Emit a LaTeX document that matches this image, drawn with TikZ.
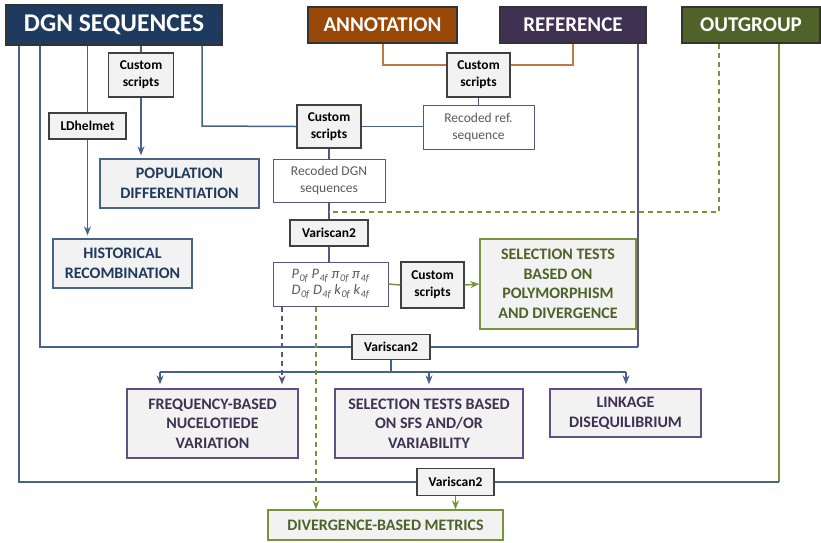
\documentclass[tikz,border=0pt]{standalone}
\usepackage{fontspec}
\setmainfont{Carlito}
\usetikzlibrary{arrows.meta}

\definecolor{navy}{HTML}{1F3A5F}
\definecolor{blueline}{HTML}{47638A}
\definecolor{annfill}{HTML}{984807}
\definecolor{annline}{HTML}{C27A45}
\definecolor{reffill}{HTML}{3F3151}
\definecolor{purpline}{HTML}{5F5182}
\definecolor{outfill}{HTML}{4F6228}
\definecolor{greenline}{HTML}{77933C}
\definecolor{boxfill}{HTML}{F2F2F2}
\definecolor{toolborder}{HTML}{404040}
\definecolor{greytext}{HTML}{5A5A5A}

\newcommand{\sub}[1]{\textsubscript{\kern0.5pt#1}}

\tikzset{
  header/.style={draw=black!80, line width=1.3pt, text=white, font=\bfseries\fontsize{21}{24}\selectfont, inner sep=0pt},
  tool/.style={draw=toolborder, fill=boxfill, line width=1.2pt, align=center, inner sep=0pt,
    font=\bfseries\fontsize{13.5}{17}\selectfont},
  result/.style={fill=boxfill, line width=1.3pt, align=center, inner sep=0pt,
    font=\bfseries\fontsize{16}{19.5}\selectfont},
  interm/.style={draw=purpline, fill=white, line width=1pt, align=center, inner sep=0pt,
    text=greytext, font=\fontsize{13.5}{17}\selectfont},
  bl/.style={draw=blueline, line width=1.5pt},
  pl/.style={draw=purpline, line width=1.5pt},
  ol/.style={draw=annline, line width=1.5pt},
  gl/.style={draw=greenline, line width=1.5pt},
  gdash/.style={draw=greenline, line width=1.5pt, dash pattern=on 5pt off 4pt},
  pdash/.style={draw=purpline, line width=1.5pt, dash pattern=on 5pt off 4pt},
  tip/.style={-{Stealth[length=9pt,width=7pt]}},
}

\begin{document}
\begin{tikzpicture}[x=1pt,y=-1pt]
\useasboundingbox (0,0) rectangle (821,542);

% data sources
\node[header, fill=navy, minimum width=216pt, minimum height=40pt,
      font=\bfseries\fontsize{25.5}{28}\selectfont] (dgn) at (114,25) {DGN SEQUENCES};
\node[header, fill=annfill, minimum width=149pt, minimum height=36pt] (ann) at (382.5,25) {ANNOTATION};
\node[header, fill=reffill, minimum width=146pt, minimum height=36pt] (ref) at (573,25) {REFERENCE};
\node[header, fill=outfill, minimum width=138pt, minimum height=36pt] (out) at (751,25) {OUTGROUP};

% tools
\node[tool, minimum width=65pt, minimum height=44pt] (cs1) at (141,75) {Custom\\scripts};
\node[tool, minimum width=77pt, minimum height=26pt] (ldh) at (87.5,126) {LDhelmet};
\node[tool, minimum width=64pt, minimum height=43pt] (cs2) at (329,126.5) {Custom\\scripts};
\node[tool, minimum width=63pt, minimum height=44pt] (cs3) at (478.5,75) {Custom\\scripts};
\node[tool, minimum width=78pt, minimum height=26pt] (vs1) at (329,233) {Variscan2};
\node[tool, minimum width=63pt, minimum height=46pt] (cs4) at (432.5,285) {Custom\\scripts};
\node[tool, minimum width=78pt, minimum height=25pt] (vs2) at (391,347) {Variscan2};
\node[tool, minimum width=77pt, minimum height=27pt] (vs3) at (455.5,482) {Variscan2};

% intermediate files
\node[interm, minimum width=111pt, minimum height=44pt] (recref) at (478.5,127) {Recoded ref.\\sequence};
\node[interm, minimum width=112pt, minimum height=43pt] (recdgn) at (329,180.5) {Recoded DGN\\sequences};
\node[interm, minimum width=115pt, minimum height=44pt, font=\itshape\fontsize{14.5}{16}\selectfont] (par) at (330.5,284)
  {P\sub{0f} P\sub{4f} π\sub{0f} π\sub{4f}\\
   D\sub{0f} D\sub{4f} k\sub{0f} k\sub{4f}};

% analyses
\node[result, draw=blueline, text=navy, minimum width=159pt, minimum height=49pt] (pop) at (179.5,183.5) {POPULATION\\DIFFERENTIATION};
\node[result, draw=blueline, text=navy, minimum width=139pt, minimum height=49pt] (hist) at (122.5,263.5) {HISTORICAL\\RECOMBINATION};
\node[result, draw=greenline, text=outfill, minimum width=156pt, minimum height=90pt] (poly) at (558,284) {SELECTION TESTS\\BASED ON\\POLYMORPHISM\\AND DIVERGENCE};
\node[result, draw=purpline, text=reffill, minimum width=171pt, minimum height=69pt] (freq) at (212.5,423.5) {FREQUENCY-BASED\\NUCELOTIEDE\\VARIATION};
\node[result, draw=purpline, text=reffill, minimum width=188pt, minimum height=69pt] (sfs) at (429,423.5) {SELECTION TESTS BASED\\ON SFS AND/OR\\VARIABILITY};
\node[result, draw=purpline, text=reffill, minimum width=151pt, minimum height=48pt] (link) at (625.5,413) {LINKAGE\\DISEQUILIBRIUM};
\node[result, draw=greenline, text=outfill, minimum width=235pt, minimum height=30pt] (div) at (385.5,525) {DIVERGENCE-BASED METRICS};

% routing points
\coordinate (c1) at (19,482);
\coordinate (c2) at (40,347);
\coordinate (c5) at (202,126);
\coordinate (oc) at (383,65);
\coordinate (rc) at (573,65);
\coordinate (gd) at (719,212);
\coordinate (rv) at (638,347);
\coordinate (ov) at (779,482);
\coordinate (dl) at (160,372);
\coordinate (dr) at (626,372);
\coordinate (dm) at (391,372);
\coordinate (pd) at (282,0);
\coordinate (gdv) at (316,0);

% DGN sequences branches
\draw[bl] (dgn.south -| c1) -- (c1) -- (vs3.west);
\draw[bl] (dgn.south -| c2) -- (c2) -- (vs2.west);
\draw[bl] (dgn.south -| ldh) -- (ldh.north);
\draw[bl, tip, shorten >=3pt] (ldh.south) -- (hist.north -| ldh);
\draw[bl] (dgn.south -| cs1) -- (cs1.north);
\draw[bl, tip, shorten >=3pt] (cs1.south) -- (pop.north -| cs1);
\draw[bl] (dgn.south -| c5) -- (c5) -- (cs2.west);
\draw[bl] (cs2.east) -- (recref.west |- cs2.east);

% annotation and reference recoding
\draw[ol] (ann.south -| oc) -- (oc) -- (cs3.west |- oc);
\draw[ol] (ref.south -| rc) -- (rc) -- (cs3.east |- rc);
\draw[pl] (cs3.south) -- (recref.north);

% recoded DGN sequences and Variscan2
\draw[pl] (cs2.south) -- (recdgn.north);
\draw[pl] (recdgn.south) -- (vs1.north);
\draw[pl] (vs1.south) -- (par.north -| vs1);
\draw[gdash] (out.south -| gd) -- (gd) -- (recdgn.south |- gd);

% polymorphism / divergence tests
\draw[gl] (par.east) -- (cs4.west);
\draw[gl, tip] (cs4.east) -- (poly.west);

% reference to second Variscan2
\draw[pl] (ref.south -| rv) -- (rv);
\draw[bl] (vs2.east) -- (rv);

% distribution to SFS-based analyses
\draw[bl] (vs2.south) -- (dm);
\draw[bl] (dl) -- (dr);
\draw[bl, tip, shorten >=4pt] (dl) -- (freq.north -| dl);
\draw[bl, tip, shorten >=4pt] (sfs.north |- dl) -- (sfs.north);
\draw[bl, tip, shorten >=4pt] (dr) -- (link.north -| dr);
\draw[pdash, tip, shorten >=4pt] (par.south -| pd) -- (freq.north -| pd);
\draw[gdash, tip] (par.south -| gdv) -- (div.north -| gdv);

% outgroup and divergence metrics
\draw[gl] (out.south -| ov) -- (ov);
\draw[bl] (vs3.east) -- (ov);
\draw[gl, tip] (vs3.south) -- (div.north -| vs3);
\end{tikzpicture}
\end{document}
